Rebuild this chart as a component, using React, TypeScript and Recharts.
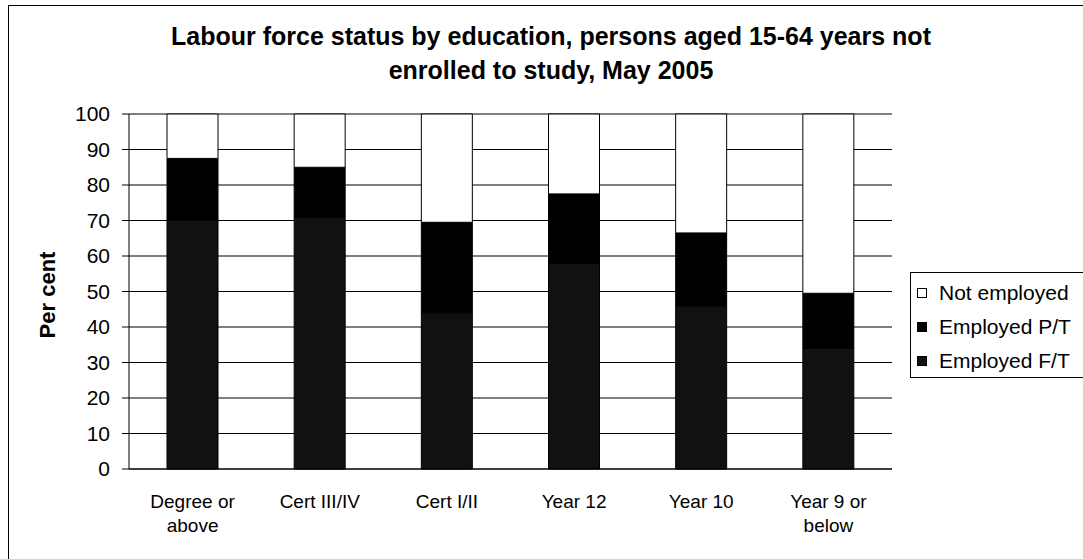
import React from "react";
import { BarChart, Bar, XAxis, YAxis, CartesianGrid } from "recharts";

const categories = ["Degree or\nabove", "Cert III/IV", "Cert I/II", "Year 12", "Year 10", "Year 9 or\nbelow"];
const employedFT = [70, 71, 44, 58, 46, 34];
const employedPT = [17.5, 14, 25.5, 19.5, 20.5, 15.5];
const notEmployed = [12.5, 15, 30.5, 22.5, 33.5, 50.5];
const yTicks = [0, 10, 20, 30, 40, 50, 60, 70, 80, 90, 100];

const data = categories.map((name, i) => ({
    name,
    ft: employedFT[i],
    pt: employedPT[i],
    ne: notEmployed[i],
}));

const legendItems = [
    { label: "Not employed", fill: "#fff" },
    { label: "Employed P/T", fill: "#000" },
    { label: "Employed F/T", fill: "#111" },
];

const font = "'Liberation Sans', Arial, sans-serif";

const CategoryTick = (props: any) => {
    const { x, y, payload } = props;
    const lines = String(payload.value).split("\n");
    return (
        <text x={x} y={y + 31} textAnchor="middle" fontSize={19} fill="#000" fontFamily={font}>
            {lines.map((l, i) => (
                <tspan key={i} x={x} dy={i === 0 ? 0 : 24}>
                    {l}
                </tspan>
            ))}
        </text>
    );
};

export default function App() {
    return (
        <div style={{ position: "absolute", left: 0, top: 0, width: 1083, height: 559, background: "#fff", fontFamily: font, overflow: "hidden" }}>
            <div style={{ position: "absolute", left: 8, top: 5, width: 1075, height: 560, borderLeft: "1px solid #000", borderTop: "1px solid #000" }} />
            <div style={{ position: "absolute", left: 0, top: 19, width: 1102, textAlign: "center", fontWeight: "bold", fontSize: 25, lineHeight: "34px" }}>
                Labour force status by education, persons aged 15-64 years not
                <br />
                enrolled to study, May 2005
            </div>
            <div
                style={{
                    position: "absolute",
                    left: 48,
                    top: 295,
                    transform: "translate(-50%, -50%) rotate(-90deg)",
                    fontWeight: "bold",
                    fontSize: 22,
                    whiteSpace: "nowrap",
                }}
            >
                Per cent
            </div>
            <BarChart
                width={1083}
                height={559}
                data={data}
                margin={{ top: 114, right: 191, bottom: 30, left: 69 }}
                barSize={51}
                style={{ position: "absolute", left: 0, top: 0 }}
            >
                <CartesianGrid yAxisId="left" vertical={false} stroke="#000" strokeWidth={1} />
                <XAxis
                    dataKey="name"
                    interval={0}
                    height={60}
                    tick={<CategoryTick />}
                    tickLine={false}
                    axisLine={{ stroke: "#000" }}
                />
                <YAxis
                    yAxisId="left"
                    domain={[0, 100]}
                    ticks={yTicks}
                    width={60}
                    interval={0}
                    tick={{ fill: "#000", fontSize: 21, fontFamily: font }}
                    tickLine={{ stroke: "#000" }}
                    tickSize={7}
                    tickMargin={12}
                    axisLine={{ stroke: "#000" }}
                />
                <YAxis
                    yAxisId="right"
                    orientation="right"
                    domain={[0, 100]}
                    width={0}
                    tick={false}
                    tickLine={false}
                    axisLine={{ stroke: "#000" }}
                />
                <Bar yAxisId="left" dataKey="ft" stackId="a" fill="#111" stroke="#000" isAnimationActive={false} />
                <Bar yAxisId="left" dataKey="pt" stackId="a" fill="#000" stroke="#000" isAnimationActive={false} />
                <Bar yAxisId="left" dataKey="ne" stackId="a" fill="#fff" stroke="#000" isAnimationActive={false} />
            </BarChart>
            <div
                style={{
                    position: "absolute",
                    left: 910,
                    top: 272,
                    width: 190,
                    height: 106,
                    border: "1px solid #000",
                    boxSizing: "border-box",
                    paddingTop: 3,
                }}
            >
                {legendItems.map((it) => (
                    <div key={it.label} style={{ display: "flex", alignItems: "center", height: 34, paddingLeft: 6, fontSize: 21, whiteSpace: "nowrap" }}>
                        <span
                            style={{
                                display: "inline-block",
                                width: 8,
                                height: 8,
                                border: "1px solid #000",
                                background: it.fill,
                                marginRight: 12,
                                flex: "none",
                            }}
                        />
                        {it.label}
                    </div>
                ))}
            </div>
        </div>
    );
}
